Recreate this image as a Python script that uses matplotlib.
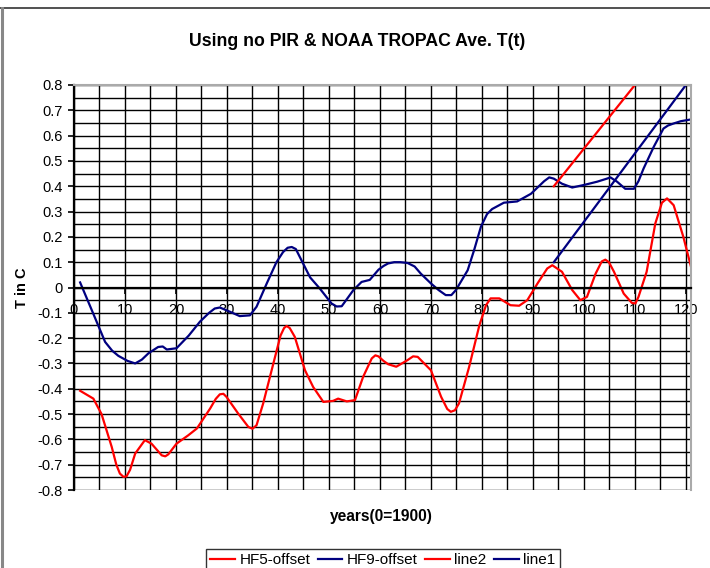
import numpy as np
import matplotlib
matplotlib.use('Agg')
import matplotlib.pyplot as plt
from matplotlib.lines import Line2D
from matplotlib.ticker import MultipleLocator, FuncFormatter

plt.rcParams['font.family'] = ['Liberation Sans', 'DejaVu Sans']
plt.rcParams['axes.unicode_minus'] = False

# HF9-offset (blue, whole record)
hf9_x = [1.2, 3.5, 6.1, 7.5, 8.7, 10.5, 12.0, 13.3, 14.6, 16.5, 17.4, 18.2, 20.1, 22.5,
         24.7, 26.5, 27.6, 28.6, 30.6, 32.5, 34.5, 35.8, 37.8, 39.7, 41.0, 41.9, 42.7,
         43.5, 44.3, 46.3, 48.2, 50.5, 51.5, 52.5, 54.8, 56.4, 58.0, 59.7, 60.7, 61.6,
         62.8, 64.0, 65.4, 66.8, 68.0, 70.0, 71.5, 72.9, 74.0, 74.9, 77.2, 78.5, 79.8,
         81.0, 82.0, 84.3, 86.9, 89.6, 92.2, 93.2, 94.1, 95.7, 97.7, 100.0, 102.6,
         104.5, 105.2, 106.5, 108.1, 109.8, 110.7, 111.7, 113.7, 115.6, 116.5, 117.6,
         119.0, 121.0]
hf9_y = [0.02, -0.09, -0.215, -0.25, -0.27, -0.29, -0.30, -0.285, -0.26, -0.235,
         -0.233, -0.245, -0.24, -0.19, -0.135, -0.10, -0.083, -0.079, -0.096, -0.113,
         -0.11, -0.076, 0.016, 0.10, 0.14, 0.157, 0.16, 0.152, 0.12, 0.04, -0.004,
         -0.063, -0.075, -0.074, -0.01, 0.022, 0.03, 0.07, 0.085, 0.095, 0.1, 0.1, 0.097,
         0.083, 0.055, 0.016, -0.01, -0.03, -0.03, -0.01, 0.068, 0.15, 0.24, 0.29, 0.31,
         0.335, 0.34, 0.37, 0.42, 0.435, 0.43, 0.41, 0.395, 0.405, 0.418, 0.43, 0.435,
         0.418, 0.39, 0.39, 0.42, 0.47, 0.556, 0.628, 0.64, 0.648, 0.657, 0.664]

# HF5-offset (red, whole record)
hf5_x = [1.2, 3.8, 5.4, 7.4, 8.3, 9.0, 9.7, 10.3, 11.0, 12.0, 13.9, 15.2, 17.2, 17.9,
         18.5, 20.1, 22.4, 24.1, 26.7, 27.8, 28.6, 29.3, 29.9, 32.2, 34.2, 35.0, 35.8,
         37.1, 39.1, 40.5, 41.2, 41.7, 42.3, 43.3, 45.3, 46.9, 48.9, 50.8, 51.8, 53.5,
         55.1, 56.7, 58.4, 59.1, 59.7, 60.7, 61.6, 63.2, 65.4, 66.5, 67.4, 70.0, 72.0,
         73.2, 73.9, 74.7, 75.5, 77.5, 79.5, 80.8, 81.7, 83.4, 85.6, 87.3, 88.9, 90.9,
         92.8, 93.8, 95.7, 97.7, 99.3, 100.6, 102.3, 103.5, 104.2, 104.9, 105.9, 107.8,
         109.4, 110.1, 110.7, 112.3, 114.0, 115.3, 116.3, 117.6, 119.5, 121.0]
hf5_y = [-0.408, -0.439, -0.50, -0.63, -0.70, -0.735, -0.748, -0.746, -0.72, -0.656,
         -0.603, -0.617, -0.663, -0.667, -0.659, -0.617, -0.584, -0.557, -0.478, -0.44,
         -0.422, -0.42, -0.432, -0.498, -0.551, -0.558, -0.544, -0.458, -0.30, -0.19,
         -0.16, -0.152, -0.16, -0.195, -0.327, -0.393, -0.452, -0.448, -0.439, -0.45,
         -0.445, -0.353, -0.28, -0.268, -0.272, -0.29, -0.303, -0.313, -0.287, -0.272,
         -0.274, -0.327, -0.432, -0.48, -0.491, -0.485, -0.458, -0.313, -0.149, -0.07,
         -0.043, -0.043, -0.07, -0.072, -0.05, 0.016, 0.075, 0.088, 0.062, -0.01, -0.05,
         -0.037, 0.055, 0.103, 0.11, 0.1, 0.062, -0.024, -0.061, -0.063, -0.037, 0.062,
         0.253, 0.335, 0.352, 0.325, 0.20, 0.082]

# trend lines
line2_x = [94.1, 110.0]
line2_y = [0.40, 0.80]
line1_x = [94.1, 120.0]
line1_y = [0.10, 0.80]

red = '#FF0000'
navy = '#000080'

fig = plt.figure(figsize=(7.1, 5.68), dpi=100)
ax = fig.add_axes([74 / 710, 78 / 568, 617 / 710, 405 / 568])

ax.plot(hf5_x, hf5_y, color=red, lw=1.6, label='HF5-offset', solid_joinstyle='round')
ax.plot(hf9_x, hf9_y, color=navy, lw=1.6, label='HF9-offset', solid_joinstyle='round')
ax.plot(line2_x, line2_y, color=red, lw=1.6, label='line2')
ax.plot(line1_x, line1_y, color=navy, lw=1.6, label='line1')

ax.set_xlim(0, 121)
ax.set_ylim(-0.8, 0.8)

ax.xaxis.set_major_locator(MultipleLocator(10))
ax.xaxis.set_minor_locator(MultipleLocator(5))
ax.yaxis.set_major_locator(MultipleLocator(0.1))
ax.yaxis.set_minor_locator(MultipleLocator(0.05))
ax.yaxis.set_major_formatter(FuncFormatter(lambda v, p: '0' if abs(v) < 1e-9 else f'{v:.1f}'))

ax.grid(True, which='both', color='black', lw=1.0)
ax.set_axisbelow(True)

ax.spines['bottom'].set_position(('data', 0))
ax.spines['bottom'].set_color('black')
ax.spines['bottom'].set_linewidth(1.6)
ax.spines['left'].set_color('black')
ax.spines['left'].set_linewidth(1.6)
ax.spines['top'].set_color('#aaaaaa')
ax.spines['right'].set_color('#aaaaaa')
ax.spines['top'].set_linewidth(1.5)
ax.spines['right'].set_linewidth(1.5)

ax.tick_params(axis='x', which='major', direction='out', length=4, width=1.2,
               labelsize=10.5, pad=7, colors='black')
ax.tick_params(axis='y', which='major', direction='out', length=4, width=1.2,
               labelsize=10.5, pad=4)
ax.tick_params(which='minor', length=0)

ax.set_title('Using no PIR & NOAA TROPAC Ave. T(t)', fontsize=12.7, fontweight='bold',
             pad=28, x=(357 - 74) / 617)
fig.text(22 / 710, 1 - 288 / 568, 'T in C', rotation=90, fontsize=10.5, fontweight='bold',
         ha='center', va='center')
fig.text(381 / 710, 1 - 517 / 568, 'years(0=1900)', fontsize=11.2, fontweight='bold',
         ha='center', va='center')

leg = fig.legend(loc='upper center', bbox_to_anchor=(383 / 710, 1 - 541 / 568), ncol=4,
                 fontsize=11, frameon=True, fancybox=False, handlelength=1.6,
                 handletextpad=0.3, columnspacing=0.5, borderpad=0.3)
leg.get_frame().set_edgecolor('black')
leg.get_frame().set_linewidth(1.0)

# chart area border
fig.add_artist(Line2D([0, 1], [1 - 8 / 568, 1 - 8 / 568], transform=fig.transFigure,
                      color='#333333', lw=1.2))
fig.add_artist(Line2D([2 / 710, 2 / 710], [0, 1 - 8 / 568], transform=fig.transFigure,
                      color='#888888', lw=2.2))

fig.savefig('out.png', dpi=100)
